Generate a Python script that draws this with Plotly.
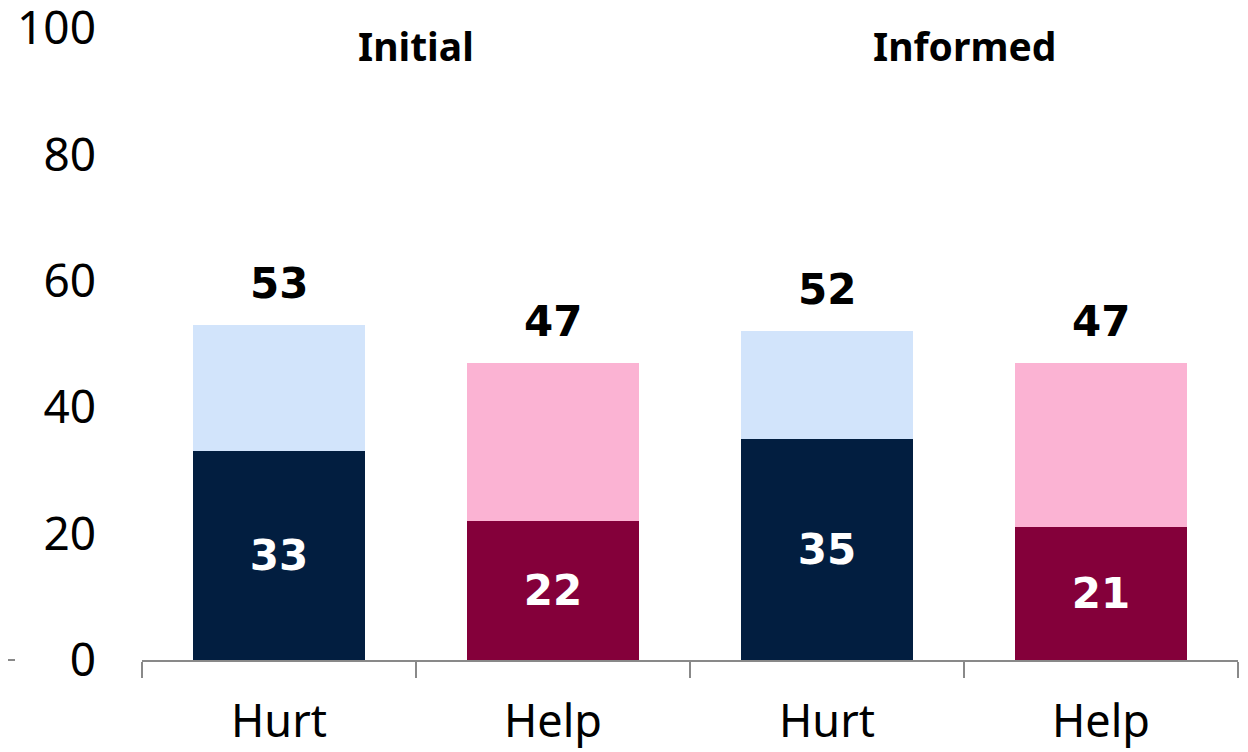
import plotly.graph_objects as go

categories = ["Initial|Hurt", "Initial|Help", "Informed|Hurt", "Informed|Help"]
tick_labels = ["Hurt", "Help", "Hurt", "Help"]
groups = ["Initial", "Informed"]
strong_values = [33, 22, 35, 21]
total_values = [53, 47, 52, 47]
weak_values = [t - s for t, s in zip(total_values, strong_values)]
y_ticks = [0, 20, 40, 60, 80, 100]

strong_colors = ["#021E40", "#84003A", "#021E40", "#84003A"]
weak_colors = ["#D2E4FB", "#FBB3D3", "#D2E4FB", "#FBB3D3"]

FONT = "Noto Sans"
NUMFONT = "DejaVu Sans"

fig = go.Figure()
fig.add_trace(go.Bar(
    x=categories, y=strong_values,
    marker=dict(color=strong_colors, line=dict(width=0)),
    text=[str(v) for v in strong_values],
    textposition="inside", insidetextanchor="middle",
    textfont=dict(family=NUMFONT, size=42, color="white", weight="bold"),
    hoverinfo="skip",
))
fig.add_trace(go.Bar(
    x=categories, y=weak_values,
    marker=dict(color=weak_colors, line=dict(width=0)),
    hoverinfo="skip",
))

for c, t in zip(categories, total_values):
    fig.add_annotation(
        x=c, y=t, xref="x", yref="y", text=f"<b>{t}</b>", showarrow=False,
        yanchor="bottom", yshift=15,
        font=dict(family=NUMFONT, size=42, color="black"),
    )

for i, g in enumerate(groups):
    fig.add_annotation(
        x=0.25 + 0.5 * i, y=0.973, xref="paper", yref="paper",
        text=f"<b>{g}</b>", showarrow=False, xanchor="center", yanchor="middle",
        font=dict(family=FONT, size=39, color="black"),
    )

# small dash at far left of the baseline
fig.add_shape(type="line", xref="paper", yref="paper",
              x0=-134 / 1096, x1=-127 / 1096, y0=0, y1=0,
              line=dict(color="#898989", width=2))

fig.update_layout(
    width=1240, height=744,
    margin=dict(l=134, r=10, t=20, b=92),
    barmode="stack", bargap=0.372,
    showlegend=False,
    plot_bgcolor="white", paper_bgcolor="white",
    font=dict(family=FONT, color="black"),
    xaxis=dict(
        type="category", tickvals=categories, ticktext=tick_labels,
        tickson="boundaries", ticks="outside", ticklen=16, tickwidth=2,
        tickcolor="#898989", showline=True, linecolor="#898989", linewidth=2,
        showgrid=False, automargin=False, ticklabelstandoff=21,
        tickfont=dict(family=FONT, size=45, color="black"),
    ),
    yaxis=dict(
        range=[0, 100.02], tickvals=y_ticks,
        showgrid=False, zeroline=False, showline=False, ticks="",
        ticklabelstandoff=45, automargin=False, ticklabeloverflow="allow",
        tickfont=dict(family=FONT, size=46, color="black"),
    ),
)

fig.write_html("out.html", config={"displayModeBar": False})
